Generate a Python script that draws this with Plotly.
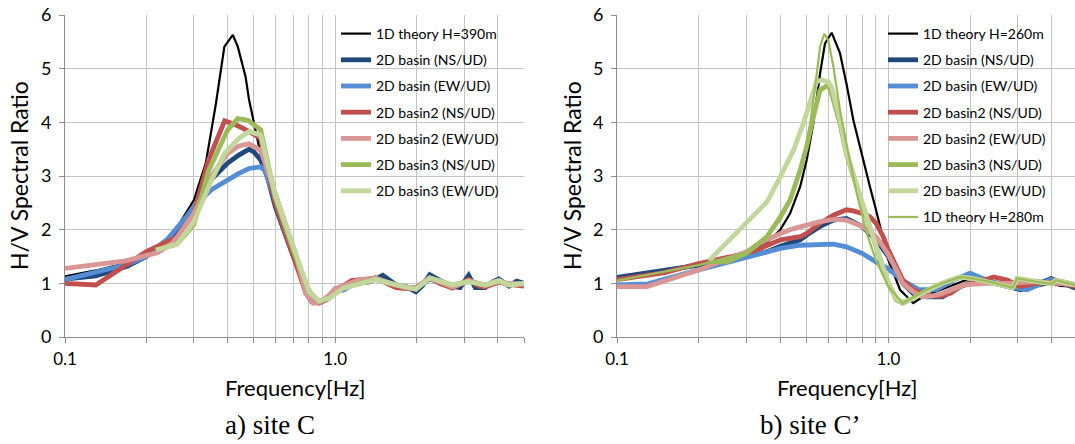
import plotly.graph_objects as go

# ---------------- data: a) site C ----------------
c_black_f = [0.10, 0.13, 0.17, 0.20, 0.25, 0.30, 0.332, 0.362, 0.389, 0.418, 0.436, 0.466, 0.48, 0.50, 0.53, 0.56, 0.60, 0.70, 0.80, 0.86, 0.95, 1.07, 1.23, 1.41, 1.68, 1.99, 2.24, 2.72, 3.12, 3.59, 4.03, 4.4, 5.0]
c_black_v = [1.13, 1.24, 1.38, 1.55, 1.90, 2.55, 3.24, 4.35, 5.41, 5.63, 5.41, 4.85, 4.42, 3.98, 3.40, 3.00, 2.45, 1.52, 0.90, 0.66, 0.75, 0.92, 1.00, 1.08, 0.97, 0.90, 1.10, 0.97, 1.03, 0.97, 1.04, 0.98, 1.00]

c_ns_f = [0.10, 0.13, 0.17, 0.20, 0.25, 0.30, 0.347, 0.40, 0.44, 0.48, 0.50, 0.53, 0.56, 0.60, 0.70, 0.78, 0.83, 0.88, 0.93, 1.0, 1.07, 1.15, 1.23, 1.32, 1.41, 1.50, 1.60, 1.70, 1.83, 1.99, 2.10, 2.24, 2.43, 2.60, 2.72, 2.90, 3.12, 3.30, 3.59, 3.80, 4.03, 4.40, 4.70, 5.0]
c_ns_v = [1.08, 1.14, 1.32, 1.50, 1.85, 2.30, 2.93, 3.24, 3.39, 3.50, 3.45, 3.30, 3.00, 2.43, 1.50, 0.90, 0.70, 0.65, 0.70, 0.88, 0.95, 1.02, 1.05, 1.02, 1.08, 1.15, 1.05, 0.95, 0.94, 0.84, 0.95, 1.16, 1.06, 0.98, 0.94, 0.92, 1.15, 0.92, 0.92, 1.02, 1.08, 0.95, 1.04, 1.00]

c_ew_f = [0.10, 0.13, 0.17, 0.20, 0.24, 0.28, 0.30, 0.347, 0.40, 0.44, 0.48, 0.53, 0.55, 0.60, 0.70, 0.78, 0.83, 0.88, 0.95, 1.0, 1.07, 1.15, 1.23, 1.41, 1.60, 1.83, 1.99, 2.24, 2.50, 2.72, 3.12, 3.59, 4.03, 4.40, 5.0]
c_ew_v = [1.07, 1.20, 1.35, 1.50, 1.83, 2.23, 2.43, 2.74, 2.93, 3.05, 3.14, 3.17, 3.10, 2.55, 1.56, 0.88, 0.70, 0.66, 0.75, 0.90, 0.87, 0.97, 1.05, 1.10, 1.00, 0.93, 0.90, 1.08, 1.00, 0.95, 1.05, 0.96, 1.04, 0.98, 1.00]

c_ns2_f = [0.10, 0.13, 0.20, 0.26, 0.30, 0.34, 0.39, 0.43, 0.48, 0.53, 0.60, 0.70, 0.78, 0.82, 0.87, 0.93, 1.0, 1.07, 1.15, 1.23, 1.32, 1.41, 1.55, 1.68, 1.83, 1.99, 2.24, 2.43, 2.72, 2.90, 3.12, 3.40, 3.59, 4.03, 4.40, 5.0]
c_ns2_v = [1.00, 0.97, 1.59, 1.86, 2.30, 3.30, 4.03, 3.95, 3.83, 3.70, 2.50, 1.50, 0.81, 0.65, 0.63, 0.70, 0.88, 0.95, 1.05, 1.07, 1.03, 1.10, 1.00, 0.92, 0.90, 0.92, 1.10, 1.00, 0.91, 0.98, 1.07, 0.95, 0.93, 1.02, 0.98, 0.95]

c_ew2_f = [0.10, 0.127, 0.168, 0.20, 0.22, 0.25, 0.30, 0.347, 0.40, 0.44, 0.48, 0.53, 0.60, 0.70, 0.78, 0.83, 0.88, 0.95, 1.0, 1.07, 1.23, 1.41, 1.60, 1.83, 1.99, 2.24, 2.50, 2.72, 3.12, 3.59, 4.03, 4.40, 5.0]
c_ew2_v = [1.28, 1.35, 1.42, 1.52, 1.57, 1.75, 2.30, 2.99, 3.42, 3.56, 3.60, 3.48, 2.68, 1.68, 0.81, 0.63, 0.65, 0.78, 0.90, 0.95, 1.07, 1.10, 1.00, 0.92, 0.90, 1.10, 1.00, 0.93, 1.05, 0.96, 1.03, 1.00, 0.98]

c_ns3_f = [0.217, 0.26, 0.30, 0.34, 0.40, 0.436, 0.475, 0.53, 0.60, 0.70, 0.80, 0.87, 0.95, 1.07, 1.23, 1.41, 1.68, 1.99, 2.24, 2.72, 3.12, 3.59, 4.03, 4.40, 5.0]
c_ns3_v = [1.62, 1.73, 2.10, 3.10, 3.86, 4.07, 4.04, 3.86, 2.60, 1.62, 0.85, 0.67, 0.72, 0.91, 1.00, 1.08, 0.97, 0.89, 1.10, 0.97, 1.03, 0.97, 1.05, 0.97, 1.00]

c_ew3_f = [0.217, 0.26, 0.30, 0.347, 0.39, 0.44, 0.48, 0.53, 0.60, 0.70, 0.80, 0.87, 0.95, 1.07, 1.23, 1.41, 1.68, 1.99, 2.24, 2.72, 3.12, 3.59, 4.03, 4.40, 5.0]
c_ew3_v = [1.62, 1.73, 2.15, 2.90, 3.42, 3.70, 3.83, 3.76, 2.65, 1.65, 0.85, 0.67, 0.72, 0.91, 1.00, 1.07, 0.97, 0.89, 1.10, 0.97, 1.03, 0.97, 1.05, 0.97, 1.00]

# ---------------- data: b) site C' ----------------
d_black_f = [0.10, 0.20, 0.30, 0.357, 0.40, 0.434, 0.473, 0.50, 0.529, 0.56, 0.584, 0.618, 0.663, 0.70, 0.743, 0.80, 0.855, 0.90, 0.957, 1.0, 1.104, 1.235, 1.338, 1.50, 1.63, 1.80, 2.0, 2.25, 2.52, 2.75, 2.97, 3.24, 3.5, 3.98, 4.3, 4.9]
d_black_v = [1.09, 1.34, 1.56, 1.76, 2.00, 2.30, 2.80, 3.30, 3.98, 4.91, 5.47, 5.67, 5.29, 4.73, 4.04, 3.36, 2.80, 2.37, 1.81, 1.43, 0.88, 0.63, 0.75, 0.85, 0.91, 1.00, 1.09, 1.02, 0.97, 0.92, 0.88, 0.90, 0.94, 1.00, 0.95, 0.94]

d_ns_f = [0.10, 0.20, 0.30, 0.337, 0.357, 0.40, 0.473, 0.50, 0.56, 0.627, 0.70, 0.80, 0.90, 1.0, 1.07, 1.13, 1.235, 1.38, 1.58, 1.84, 2.10, 2.52, 3.07, 3.37, 3.98, 4.9]
d_ns_v = [1.11, 1.34, 1.50, 1.55, 1.59, 1.69, 1.81, 1.90, 2.06, 2.18, 2.21, 2.06, 1.81, 1.50, 1.25, 1.00, 0.81, 0.75, 0.75, 0.94, 1.06, 1.00, 0.88, 0.94, 1.09, 0.91]

d_ew_f = [0.10, 0.13, 0.20, 0.30, 0.337, 0.40, 0.473, 0.56, 0.627, 0.70, 0.80, 0.90, 1.0, 1.13, 1.30, 1.50, 1.74, 2.0, 2.3, 2.8, 3.24, 3.98, 4.9]
d_ew_v = [0.97, 0.99, 1.25, 1.49, 1.55, 1.65, 1.71, 1.73, 1.73, 1.68, 1.56, 1.40, 1.27, 1.05, 0.88, 0.88, 1.06, 1.19, 1.06, 0.94, 0.88, 1.07, 0.97]

d_ns2_f = [0.10, 0.15, 0.20, 0.30, 0.337, 0.40, 0.473, 0.50, 0.56, 0.627, 0.70, 0.743, 0.80, 0.855, 0.90, 0.957, 1.0, 1.07, 1.13, 1.235, 1.38, 1.55, 1.70, 1.84, 2.0, 2.16, 2.44, 2.74, 3.07, 3.51, 4.14, 4.9]
d_ns2_v = [1.07, 1.20, 1.37, 1.56, 1.65, 1.81, 1.87, 1.93, 2.12, 2.27, 2.37, 2.35, 2.30, 2.24, 2.12, 1.87, 1.62, 1.31, 1.06, 0.88, 0.78, 0.76, 0.82, 0.94, 1.00, 1.03, 1.12, 1.06, 0.94, 1.00, 1.03, 0.94]

d_ew2_f = [0.10, 0.129, 0.20, 0.30, 0.337, 0.40, 0.447, 0.50, 0.56, 0.627, 0.70, 0.80, 0.90, 0.957, 1.0, 1.07, 1.13, 1.235, 1.33, 1.45, 1.58, 1.89, 2.3, 2.8, 3.51, 4.9]
d_ew2_v = [0.94, 0.94, 1.25, 1.59, 1.75, 1.93, 2.02, 2.09, 2.15, 2.19, 2.18, 2.06, 1.87, 1.68, 1.53, 1.25, 1.00, 0.84, 0.75, 0.76, 0.81, 0.97, 1.00, 1.00, 1.03, 0.97]

d_ns3_f = [0.22, 0.254, 0.30, 0.326, 0.357, 0.40, 0.434, 0.473, 0.50, 0.529, 0.56, 0.60, 0.617, 0.663, 0.70, 0.764, 0.832, 0.90, 0.957, 1.0, 1.07, 1.13, 1.235, 1.38, 1.58, 1.84, 2.05, 2.4, 2.66, 2.87, 2.98, 3.2, 3.51, 4.0, 4.14, 4.9]
d_ns3_v = [1.40, 1.40, 1.56, 1.71, 1.87, 2.24, 2.55, 3.11, 3.55, 4.10, 4.60, 4.70, 4.54, 3.98, 3.42, 2.80, 2.18, 1.68, 1.28, 1.00, 0.69, 0.63, 0.72, 0.86, 1.00, 1.12, 1.09, 1.02, 0.97, 0.92, 1.09, 1.07, 1.03, 0.99, 1.06, 0.97]

d_ew3_f = [0.218, 0.33, 0.357, 0.40, 0.447, 0.486, 0.515, 0.544, 0.57, 0.60, 0.617, 0.663, 0.70, 0.764, 0.832, 0.90, 0.957, 1.0, 1.07, 1.13, 1.235, 1.38, 1.58, 1.84, 2.05, 2.4, 2.66, 2.87, 2.98, 3.2, 3.51, 4.0, 4.14, 4.9]
d_ew3_v = [1.42, 2.35, 2.52, 2.99, 3.48, 3.98, 4.42, 4.76, 4.79, 4.75, 4.66, 4.05, 3.45, 2.82, 2.20, 1.70, 1.30, 1.02, 0.71, 0.65, 0.72, 0.86, 1.00, 1.12, 1.09, 1.02, 0.97, 0.92, 1.09, 1.07, 1.03, 0.99, 1.06, 0.97]

d_th280_f = [0.10, 0.20, 0.30, 0.357, 0.40, 0.447, 0.486, 0.515, 0.537, 0.56, 0.581, 0.60, 0.627, 0.663, 0.70, 0.764, 0.832, 0.90, 1.0, 1.13, 1.38, 1.58, 1.84, 2.05, 2.4, 2.66, 2.87, 2.98, 3.2, 3.51, 4.0, 4.14, 4.9]
d_th280_v = [1.05, 1.34, 1.58, 1.87, 2.18, 2.68, 3.30, 3.98, 4.66, 5.41, 5.65, 5.53, 5.04, 4.23, 3.61, 2.68, 1.93, 1.43, 0.94, 0.63, 0.88, 1.00, 1.12, 1.09, 1.02, 0.97, 0.92, 1.09, 1.07, 1.03, 0.99, 1.06, 0.97]

tick_vals = [0.1, 0.2, 0.3, 0.4, 0.5, 0.6, 0.7, 0.8, 0.9, 1.0, 2.0, 3.0, 4.0, 5.0]
tick_text = ["0.1", "", "", "", "", "", "", "", "", "1.0", "", "", "", ""]
y_ticks = [0, 1, 2, 3, 4, 5, 6]

# ---------------- styles ----------------
BLACK = "#000000"
NS = "#1F497D"
EW = "#558ED5"
NS2 = "#C0504D"
EW2 = "#DA9694"
NS3 = "#9BBB59"
EW3 = "#C3D69B"
FONT = "Lato"

fig = go.Figure()

def add(f, v, name, color, width, xa, ya, legend, group):
    fig.add_trace(go.Scatter(
        x=f, y=v, mode="lines", name=name,
        line=dict(color=color, width=width),
        xaxis=xa, yaxis=ya, legend=legend, legendgroup=group,
    ))

add(c_black_f, c_black_v, "1D theory H=390m", BLACK, 2.2, "x", "y", "legend", "a1")
add(c_ns_f, c_ns_v, "2D basin (NS/UD)", NS, 4.8, "x", "y", "legend", "a2")
add(c_ew_f, c_ew_v, "2D basin (EW/UD)", EW, 4.8, "x", "y", "legend", "a3")
add(c_ns2_f, c_ns2_v, "2D basin2 (NS/UD)", NS2, 4.8, "x", "y", "legend", "a4")
add(c_ew2_f, c_ew2_v, "2D basin2 (EW/UD)", EW2, 4.8, "x", "y", "legend", "a5")
add(c_ns3_f, c_ns3_v, "2D basin3 (NS/UD)", NS3, 4.8, "x", "y", "legend", "a6")
add(c_ew3_f, c_ew3_v, "2D basin3 (EW/UD)", EW3, 4.8, "x", "y", "legend", "a7")

add(d_black_f, d_black_v, "1D theory H=260m", BLACK, 2.2, "x2", "y2", "legend2", "b1")
add(d_ns_f, d_ns_v, "2D basin (NS/UD)", NS, 4.8, "x2", "y2", "legend2", "b2")
add(d_ew_f, d_ew_v, "2D basin (EW/UD)", EW, 4.8, "x2", "y2", "legend2", "b3")
add(d_ns2_f, d_ns2_v, "2D basin2 (NS/UD)", NS2, 4.8, "x2", "y2", "legend2", "b4")
add(d_ew2_f, d_ew2_v, "2D basin2 (EW/UD)", EW2, 4.8, "x2", "y2", "legend2", "b5")
add(d_ns3_f, d_ns3_v, "2D basin3 (NS/UD)", NS3, 4.8, "x2", "y2", "legend2", "b6")
add(d_ew3_f, d_ew3_v, "2D basin3 (EW/UD)", EW3, 4.8, "x2", "y2", "legend2", "b7")
add(d_th280_f, d_th280_v, "1D theory H=280m", NS3, 2.2, "x2", "y2", "legend2", "b8")

H = 444.0
W = 1075.0
y_top = 1 - 15 / H
y_bot = 1 - 337 / H

xcommon = dict(
    type="log", tickvals=tick_vals, ticktext=tick_text, automargin=False,
    showgrid=True, gridcolor="#C4C4C4", gridwidth=1,
    showline=True, linecolor="#8C8C8C", linewidth=1,
    ticks="outside", ticklen=5, tickcolor="#8C8C8C",
    tickfont=dict(family=FONT, size=17, color="#000000"),
    ticklabelstandoff=2, zeroline=False,
)
ycommon = dict(
    range=[0, 6], tickvals=y_ticks, automargin=False,
    showgrid=True, gridcolor="#C4C4C4", gridwidth=1,
    showline=True, linecolor="#8C8C8C", linewidth=1,
    ticks="outside", ticklen=5, tickcolor="#8C8C8C",
    tickfont=dict(family=FONT, size=18, color="#000000"),
    ticklabelstandoff=4, zeroline=False,
)

legcommon = dict(
    font=dict(family=FONT, size=14, color="#000000"),
    bgcolor="rgba(0,0,0,0)", borderwidth=0,
    traceorder="grouped", tracegroupgap=5,
    xanchor="left", yanchor="top", itemwidth=30,
)

fig.update_layout(
    width=1075, height=444,
    margin=dict(l=0, r=0, t=0, b=0, autoexpand=False),
    paper_bgcolor="white", plot_bgcolor="white",
    showlegend=True,
    xaxis=dict(domain=[65 / W, 524 / W], range=[-1, 0.69897], anchor="y", **xcommon),
    yaxis=dict(domain=[y_bot, y_top], anchor="x", **ycommon),
    xaxis2=dict(domain=[617 / W, 1.0], range=[-1, 0.6875], anchor="y2", **xcommon),
    yaxis2=dict(domain=[y_bot, y_top], anchor="x2", **ycommon),
    legend=dict(x=336 / W, y=1 - 18 / H, **legcommon),
    legend2=dict(x=883 / W, y=1 - 18 / H, **legcommon),
    annotations=[
        dict(text="H/V Spectral Ratio", x=19 / W, y=1 - 176 / H, xref="paper", yref="paper",
             textangle=-90, showarrow=False, font=dict(family=FONT, size=23, color="#000000"),
             xanchor="center", yanchor="middle"),
        dict(text="H/V Spectral Ratio", x=572 / W, y=1 - 176 / H, xref="paper", yref="paper",
             textangle=-90, showarrow=False, font=dict(family=FONT, size=23, color="#000000"),
             xanchor="center", yanchor="middle"),
        dict(text="Frequency[Hz]", x=295 / W, y=1 - 387 / H, xref="paper", yref="paper",
             showarrow=False, font=dict(family=FONT, size=22, color="#000000"),
             xanchor="center", yanchor="middle"),
        dict(text="Frequency[Hz]", x=847 / W, y=1 - 387 / H, xref="paper", yref="paper",
             showarrow=False, font=dict(family=FONT, size=22, color="#000000"),
             xanchor="center", yanchor="middle"),
        dict(text="a) site C", x=270 / W, y=1 - 425 / H, xref="paper", yref="paper",
             showarrow=False, font=dict(family="Liberation Serif", size=27, color="#000000"),
             xanchor="center", yanchor="middle"),
        dict(text="b) site C\u2019", x=810 / W, y=1 - 425 / H, xref="paper", yref="paper",
             showarrow=False, font=dict(family="Liberation Serif", size=27, color="#000000"),
             xanchor="center", yanchor="middle"),
    ],
)

fig.write_html(
    "out.html",
    config={"displayModeBar": False},
    post_script="document.body.style.margin='0';document.body.style.padding='0';document.body.style.overflow='hidden';",
)
